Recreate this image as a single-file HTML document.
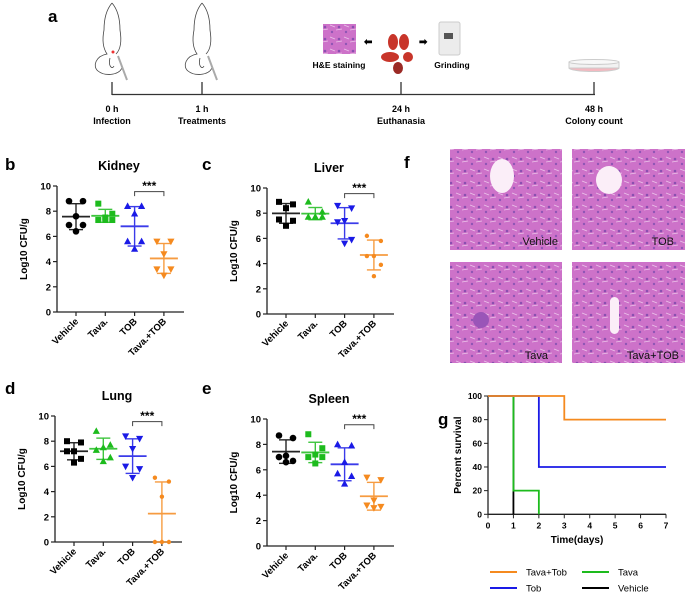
<!DOCTYPE html>
<html><head><meta charset="utf-8"><style>
html,body{margin:0;padding:0;background:#fff;width:685px;height:595px;overflow:hidden}
svg{font-family:"Liberation Sans",Arial,sans-serif;display:block}
</style></head><body>
<svg id="fig" width="685" height="595" viewBox="0 0 685 595">
<defs>
<pattern id="tissue" width="14" height="12" patternUnits="userSpaceOnUse">
<rect width="14" height="12" fill="#cd72c9"/>
<circle cx="3" cy="3" r="1.3" fill="#8a4fb0"/>
<circle cx="10" cy="8" r="1.2" fill="#8f55b5"/>
<path d="M0 6 L6 5 M8 1 L13 3" stroke="#ecc3ea" stroke-width="0.8"/>
</pattern>
</defs>
<!-- Panel a -->
<g>
<text x="48" y="22" font-size="17" font-weight="bold">a</text>
<g fill="none" stroke="#444" stroke-width="0.8">
<path d="M112 3 C106 10 104 20 104 30 C102 40 103 48 107 54 C96 56 92 66 98 71 C104 76 118 76 122 68 M112 3 C118 10 120 20 120 30 C122 42 120 50 116 54 M110 58 C108 66 112 70 114 66"/>
<path d="M118 56 L127 80" stroke="#aaa" stroke-width="2"/><circle cx="113" cy="52" r="1.5" fill="#e33" stroke="none"/>
</g>
<g fill="none" stroke="#444" stroke-width="0.8">
<path d="M202 3 C196 10 194 20 194 30 C192 40 193 48 197 54 C186 56 182 66 188 71 C194 76 208 76 212 68 M202 3 C208 10 210 20 210 30 C212 42 210 50 206 54 M200 58 C198 66 202 70 204 66"/>
<path d="M208 56 L217 80" stroke="#aaa" stroke-width="2"/>
</g>
<rect x="323" y="24" width="33" height="30" fill="url(#tissue)"/>
<text x="364" y="45" font-size="10" font-weight="bold">⬅</text>
<g fill="#c8352a">
<ellipse cx="393" cy="42" rx="5" ry="8"/><ellipse cx="404" cy="42" rx="5" ry="8"/>
<ellipse cx="390" cy="57" rx="9" ry="5"/><circle cx="408" cy="57" r="5"/><ellipse cx="398" cy="68" rx="5" ry="6" fill="#9b2a25"/>
</g>
<text x="419" y="45" font-size="10" font-weight="bold">➡</text>
<g><rect x="439" y="22" width="21" height="33" rx="2" fill="#ececec" stroke="#ccc"/><rect x="444" y="33" width="9" height="6" fill="#555"/></g>
<text x="339" y="68" font-size="8.5" font-weight="bold" text-anchor="middle">H&amp;E staining</text>
<text x="452" y="68" font-size="8.5" font-weight="bold" text-anchor="middle">Grinding</text>
<g><ellipse cx="594" cy="68" rx="25" ry="3.5" fill="#f4b9c0" stroke="#ccc"/><rect x="569" y="62" width="50" height="6" fill="#f2f2f2" stroke="#ccc"/><ellipse cx="594" cy="62" rx="25" ry="2.5" fill="#f8f8f8" stroke="#ccc"/></g>
<g stroke="#333" stroke-width="1.3">
<line x1="112" y1="94.5" x2="595" y2="94.5"/>
<line x1="112" y1="82" x2="112" y2="95"/><line x1="202" y1="82" x2="202" y2="95"/>
<line x1="401" y1="82" x2="401" y2="95"/><line x1="594" y1="82" x2="594" y2="95"/>
</g>
<g font-size="9" font-weight="bold" text-anchor="middle">
<text x="112" y="112">0 h</text><text x="112" y="124">Infection</text>
<text x="202" y="112">1 h</text><text x="202" y="124">Treatments</text>
<text x="401" y="112">24 h</text><text x="401" y="124">Euthanasia</text>
<text x="594" y="112">48 h</text><text x="594" y="124">Colony count</text>
</g>
</g>
<!-- Panel f -->
<g>
<text x="404" y="168" font-size="17" font-weight="bold">f</text>
<rect x="450" y="149" width="112" height="101" fill="url(#tissue)"/>
<ellipse cx="502" cy="176" rx="12" ry="17" fill="#fbeef8"/>
<rect x="572" y="149" width="113" height="101" fill="url(#tissue)"/>
<ellipse cx="609" cy="180" rx="13" ry="14" fill="#fbeef8"/>
<rect x="450" y="262" width="112" height="101" fill="url(#tissue)"/>
<circle cx="481" cy="320" r="8" fill="#9a55b8"/>
<rect x="572" y="262" width="113" height="101" fill="url(#tissue)"/>
<rect x="610" y="297" width="9" height="37" rx="4.5" fill="#fbeef8"/>
<g font-size="11" fill="#111" text-anchor="end">
<text x="558" y="245">Vehicle</text>
<text x="674" y="245">TOB</text>
<text x="548" y="359">Tava</text>
<text x="679" y="359">Tava+TOB</text>
</g>
</g>
<g id="dotplots"></g>
<g id="survival"></g>
</svg>
<script>
const groups = ["Vehicle","Tava.","TOB","Tava.+TOB"];
const kidneyVehicle = [8.8,8.8,7.6,6.9,6.9,6.4];
const kidneyTava = [8.6,7.8,7.3,7.3,7.3,7.5];
const kidneyTOB = [8.4,8.4,7.8,5.6,5.6,5.0];
const kidneyCombo = [5.6,5.6,4.6,3.4,3.4,2.9];
const liverVehicle = [8.9,8.7,8.4,7.5,7.4,7.0];
const liverTava = [8.9,8.1,7.7,7.7,7.7,7.7];
const liverTOB = [8.6,8.4,7.4,7.3,5.9,5.6];
const liverCombo = [6.2,5.8,4.6,4.6,3.9,3.0];
const lungVehicle = [8.0,7.9,7.2,7.2,6.6,6.3];
const lungTava = [8.8,7.7,7.5,7.3,6.7,6.4];
const lungTOB = [8.4,8.2,7.4,6.0,5.8,5.1];
const lungCombo = [5.1,4.8,3.6,0,0,0];
const spleenVehicle = [8.7,8.5,7.1,7.0,6.7,6.6];
const spleenTava = [8.8,7.7,7.2,7.0,7.0,6.5];
const spleenTOB = [8.0,7.9,6.6,5.7,5.5,4.9];
const spleenCombo = [5.4,5.2,3.6,3.2,3.1,3.0];
const yTicks = [0,2,4,6,8,10];
const survTimes = [0,1,2,3,4,5,6,7];
const survYTicks = [0,20,40,60,80,100];
const comboTimes = [0,3,7]; const comboSurv = [100,80,80];
const tobTimes = [0,2,7]; const tobSurv = [100,40,40];
const tavaTimes = [0,1,2]; const tavaSurv = [100,20,0];
const vehicleTimes = [0,1,1]; const vehicleSurv = [100,20,0];

const NS="http://www.w3.org/2000/svg";
function mk(tag, attrs, parent){const e=document.createElementNS(NS,tag);for(const k in attrs)e.setAttribute(k,attrs[k]);parent.appendChild(e);return e;}
const colors=["#000000","#1dbb1d","#1a1ae6","#f58a1f"];

function marker(g, shape, x, y, c){
  let e;
  if(shape==="circle") e=mk("circle",{cx:x,cy:y,r:3.3,fill:c},g);
  else if(shape==="square") e=mk("rect",{x:x-3,y:y-3,width:6,height:6,fill:c},g);
  else if(shape==="up") e=mk("polygon",{points:`${x},${y-3.8} ${x-3.6},${y+2.8} ${x+3.6},${y+2.8}`,fill:c},g);
  else if(shape==="down") e=mk("polygon",{points:`${x},${y+3.8} ${x-3.6},${y-2.8} ${x+3.6},${y-2.8}`,fill:c},g);
  else e=mk("circle",{cx:x,cy:y,r:2.2,fill:c},g);
  
  
}

function dotPlot(cfg){
  const root=document.getElementById("dotplots");
  const g=mk("g",{},root);
  
  
  const ax=cfg.ax, y0=cfg.y0, y10=cfg.y10;
  const yS=v=>y0-v*(y0-y10)/10;
  const xS=i=>ax+19+i*29.3;
  const lbl=mk("text",{x:cfg.lx,y:cfg.ly,"font-size":17,"font-weight":"bold"},g);lbl.textContent=cfg.letter;
  
  
  const t=mk("text",{x:ax+62,y:y10-16,"font-size":12.5,"font-weight":"bold","text-anchor":"middle"},g);t.textContent=cfg.title;
  
  
  const yaxis=mk("line",{x1:ax,y1:y10,x2:ax,y2:y0,stroke:"#222","stroke-width":1.3},g);
  
  
  const xaxis=mk("line",{x1:ax,y1:y0,x2:ax+127,y2:y0,stroke:"#222","stroke-width":1.3},g);
  
  
  yTicks.forEach(v=>{
    mk("line",{x1:ax-4,y1:yS(v),x2:ax,y2:yS(v),stroke:"#222","stroke-width":1.2},g);
    const tl=mk("text",{x:ax-6,y:yS(v)+3.5,"font-size":9.5,"font-weight":"bold","text-anchor":"end"},g);tl.textContent=v;
    
    
  });
  const yt=mk("text",{transform:`translate(${ax-30},${(y0+y10)/2}) rotate(-90)`,"font-size":10,"font-weight":"bold","text-anchor":"middle"},g);yt.textContent="Log10 CFU/g";
  
  
  cfg.series.forEach((vals,i)=>{
    const x=xS(i), c=colors[i];
    mk("line",{x1:x,y1:y0,x2:x,y2:y0+4,stroke:"#222","stroke-width":1.2},g);
    const xl=mk("text",{transform:`translate(${x+3},${y0+10}) rotate(-45)`,"font-size":9.5,"font-weight":"bold","text-anchor":"end"},g);xl.textContent=groups[i];
    
    
    const m=vals.reduce((a,b)=>a+b,0)/vals.length;
    const sd=Math.sqrt(vals.reduce((a,b)=>a+(b-m)*(b-m),0)/(vals.length-1));
    const eb=mk("g",{stroke:c,"stroke-width":1.4,opacity:0.85},g);
    
    
    mk("line",{x1:x,y1:yS(m+sd),x2:x,y2:yS(Math.max(0,m-sd))},eb);
    mk("line",{x1:x-7,y1:yS(m+sd),x2:x+7,y2:yS(m+sd)},eb);
    mk("line",{x1:x-7,y1:yS(Math.max(0,m-sd)),x2:x+7,y2:yS(Math.max(0,m-sd))},eb);
    mk("line",{x1:x-14,y1:yS(m),x2:x+14,y2:yS(m),"stroke-width":1.8},eb);
    vals.forEach((v,j)=>{const off=[-7,7,0,-7,7,0][j];marker(g,cfg.shapes[i],x+off,yS(v),c);});
  });
  const br=mk("path",{d:`M${xS(2)} ${yS(9.2)} V${yS(9.55)} H${xS(3)} V${yS(9.2)}`,fill:"none",stroke:"#444","stroke-width":1},g);
  
  
  const st=mk("text",{x:(xS(2)+xS(3))/2,y:yS(9.6)-1,"font-size":12,"font-weight":"bold","text-anchor":"middle"},g);st.textContent="***";
  
  
}
dotPlot({name:"panel-b-kidney",letter:"b",title:"Kidney",lx:5,ly:170,ax:57,y0:312,y10:186,series:[kidneyVehicle,kidneyTava,kidneyTOB,kidneyCombo],shapes:["circle","square","up","down"]});
dotPlot({name:"panel-c-liver",letter:"c",title:"Liver",lx:202,ly:170,ax:267,y0:314,y10:188,series:[liverVehicle,liverTava,liverTOB,liverCombo],shapes:["square","up","down","small"]});
dotPlot({name:"panel-d-lung",letter:"d",title:"Lung",lx:5,ly:394,ax:55,y0:542,y10:416,series:[lungVehicle,lungTava,lungTOB,lungCombo],shapes:["square","up","down","small"]});
dotPlot({name:"panel-e-spleen",letter:"e",title:"Spleen",lx:202,ly:394,ax:267,y0:546,y10:419,series:[spleenVehicle,spleenTava,spleenTOB,spleenCombo],shapes:["circle","square","up","down"]});

(function(){
  const root=document.getElementById("survival");
  const g=mk("g",{},root);
  
  
  const x0=488,x7=666,yB=514.3,yT=396;
  const xS=t=>x0+t*(x7-x0)/7, yS=p=>yB-p*(yB-yT)/100;
  const lbl=mk("text",{x:438,y:425,"font-size":17,"font-weight":"bold"},g);lbl.textContent="g";
  
  
  const ya=mk("line",{x1:x0,y1:yT,x2:x0,y2:yB,stroke:"#222","stroke-width":1.3},g);
  
  
  const xa=mk("line",{x1:x0,y1:yB,x2:x7,y2:yB,stroke:"#222","stroke-width":1.3},g);
  
  
  survYTicks.forEach(v=>{
    mk("line",{x1:x0-4,y1:yS(v),x2:x0,y2:yS(v),stroke:"#222"},g);
    const tl=mk("text",{x:x0-6,y:yS(v)+3,"font-size":8.5,"font-weight":"bold","text-anchor":"end"},g);tl.textContent=v;
    
    
  });
  survTimes.forEach(v=>{
    mk("line",{x1:xS(v),y1:yB,x2:xS(v),y2:yB+4,stroke:"#222"},g);
    const tl=mk("text",{x:xS(v),y:yB+14,"font-size":8.5,"font-weight":"bold","text-anchor":"middle"},g);tl.textContent=v;
    
    
  });
  const xt=mk("text",{x:577,y:543,"font-size":10,"font-weight":"bold","text-anchor":"middle"},g);xt.textContent="Time(days)";
  
  
  const yt=mk("text",{transform:`translate(461,${(yB+yT)/2}) rotate(-90)`,"font-size":10,"font-weight":"bold","text-anchor":"middle"},g);yt.textContent="Percent survival";
  
  
  const series=[[vehicleTimes,vehicleSurv,"#000000","survival-vehicle"],[tavaTimes,tavaSurv,"#1dbb1d","survival-tava"],[tobTimes,tobSurv,"#1a1ae6","survival-tob"],[comboTimes,comboSurv,"#f58a1f","survival-tava-tob"]];
  series.forEach(([ts,ps,c,n])=>{
    let d=`M${xS(ts[0])} ${yS(ps[0])}`;
    for(let i=1;i<ts.length;i++){d+=` H${xS(ts[i])} V${yS(ps[i])}`;}
    const p=mk("path",{d:d,fill:"none",stroke:c,"stroke-width":1.8},g);
    
    
  });
  const leg=[["Tava+Tob","#f58a1f",490,572],["Tava","#1dbb1d",582,572],["Tob","#1a1ae6",490,588],["Vehicle","#000000",582,588]];
  leg.forEach(([t,c,x,y])=>{
    const lg=mk("g",{},g);
    
    
    mk("line",{x1:x,y1:y,x2:x+27,y2:y,stroke:c,"stroke-width":2},lg);
    const tx=mk("text",{x:x+36,y:y+3.5,"font-size":9.5},lg);tx.textContent=t;
  });
})();
</script>
</body></html>
